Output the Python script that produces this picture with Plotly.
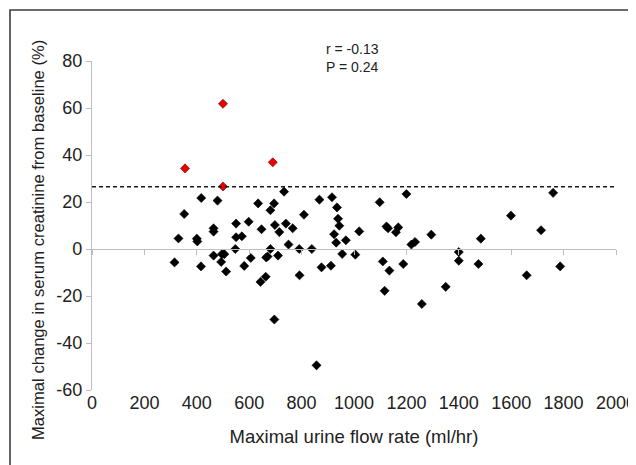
import plotly.graph_objects as go

# ---- data ----
flow_black = [315, 330, 352, 400, 402, 417, 416, 464, 464, 464, 479, 493, 496, 505, 512,
              550, 550, 547, 572, 581, 598, 606, 634, 647, 643, 663, 665, 670, 681, 695,
              681, 698, 696, 710, 715, 733, 740, 750, 766, 791, 792, 809, 839, 857, 868,
              876, 912, 916, 924, 932, 935, 939, 944, 955, 969, 1005, 1020, 1098, 1110, 1117,
              1124, 1130, 1135, 1160, 1169, 1188, 1200, 1219, 1233, 1259, 1295, 1350, 1400, 1400,
              1475, 1484, 1599, 1659, 1714, 1760, 1787]
change_black = [-5.7, 4.5, 14.9, 4.4, 3.2, 21.7, -7.4, 8.8, 7.4, -2.8, 20.6, -5.5, -2.2, -2.2, -9.6,
                10.8, 5.0, 0.0, 5.4, -7.2, 11.6, -3.8, 19.4, 8.4, -14.0, -11.8, -3.6, -3.2, 16.5, 19.4,
                0.0, 10.2, -30.0, -2.8, 7.2, 24.4, 10.8, 1.9, 8.8, 0.0, -11.2, 14.6, 0.0, -49.5, 21.0,
                -7.8, -7.1, 22.0, 6.3, 2.7, 17.7, 12.9, 9.9, -2.1, 3.7, -2.4, 7.5, 19.9, -5.3, -17.8,
                9.6, 8.8, -9.2, 7.1, 9.2, -6.4, 23.4, 1.9, 3.0, -23.4, 6.1, -16.1, -1.3, -5.0,
                -6.4, 4.4, 14.2, -11.2, 8.0, 23.9, -7.4]
flow_red = [355, 500, 500, 690]
change_red = [34.3, 61.8, 26.6, 36.9]
threshold_x = [0, 2000]
threshold_y = [26.5, 26.5]
x_ticks = list(range(0, 2001, 200))
y_ticks = list(range(-60, 81, 20))
stats_text = "r = -0.13<br>P = 0.24"
x_title = "Maximal urine flow rate (ml/hr)"
y_title = "Maximal change in serum creatinine from baseline (%)"

FONT = "Liberation Sans, Arial, sans-serif"
TXT = "#222222"
AXC = "#bdbdbd"

fig = go.Figure()

# dashed threshold line (drawn on the overlay axis that sits on y = 0)
fig.add_trace(go.Scatter(
    x=threshold_x, y=threshold_y, mode="lines", xaxis="x2", yaxis="y",
    line=dict(color="#1a1a1a", width=1.5, dash="4px,3px"),
    hoverinfo="skip", showlegend=False))

fig.add_trace(go.Scatter(
    x=flow_black, y=change_black, mode="markers",
    marker=dict(symbol="diamond", size=7, color="#000000",
                line=dict(width=0.6, color="#000000")),
    showlegend=False))

fig.add_trace(go.Scatter(
    x=flow_red, y=change_red, mode="markers",
    marker=dict(symbol="diamond", size=7, color="#ee0000",
                line=dict(width=0.6, color="#500000")),
    showlegend=False))

# the page body has an 8px margin, so the figure is 8px smaller than the window
fig.update_layout(
    width=628, height=457,
    margin=dict(l=84, r=20, t=53, b=75),
    paper_bgcolor="white", plot_bgcolor="white",
    font=dict(family=FONT, color=TXT),
    xaxis=dict(
        range=[0, 2000], tickvals=x_ticks, ticktext=[str(v) for v in x_ticks],
        showline=False, ticks="", showgrid=False, zeroline=False, automargin=False,
        tickfont=dict(size=18, color=TXT), ticklabelstandoff=0,
        ticklabeloverflow="allow",
        title=dict(text=x_title, font=dict(size=18.5, color=TXT), standoff=18),
    ),
    xaxis2=dict(
        range=[0, 2000], tickvals=x_ticks, overlaying="x", anchor="free",
        position=60 / 140, side="bottom", automargin=False,
        showline=True, linecolor=AXC, linewidth=1.3,
        ticks="outside", ticklen=5, tickcolor=AXC, tickwidth=1.3,
        showticklabels=False, showgrid=False, zeroline=False,
    ),
    yaxis=dict(
        range=[-60, 80], tickvals=y_ticks, ticktext=[str(v) for v in y_ticks],
        showline=True, linecolor=AXC, linewidth=1.3, automargin=False,
        ticks="outside", ticklen=5, tickcolor=AXC, tickwidth=1.3,
        showgrid=False, zeroline=False,
        tickfont=dict(size=18, color=TXT),
    ),
    annotations=[
        dict(text=stats_text, xref="paper", yref="paper",
             x=(324 - 92) / 524, y=(390 - 58) / 329,
             xanchor="left", yanchor="middle", align="left", showarrow=False,
             font=dict(size=14, color=TXT, family=FONT)),
        # y-axis title (sits a little below the plot's vertical centre in the reference)
        dict(text=y_title, xref="paper", yref="paper",
             x=(38 - 92) / 524, y=(390 - 240) / 329, textangle=-90,
             xanchor="center", yanchor="middle", showarrow=False,
             font=dict(size=16.6, color=TXT, family=FONT)),
    ],
    shapes=[
        # outer frame (only left and top edges fall inside the picture)
        dict(type="rect", xref="paper", yref="paper",
             x0=(10 - 92) / 524, x1=1.2, y0=-0.4, y1=(390 - 10) / 329,
             line=dict(color="#3c3c3c", width=1.6), fillcolor="rgba(0,0,0,0)",
             layer="above"),
        # picture is cropped just after "200" of the last tick label
        dict(type="rect", xref="paper", yref="paper",
             x0=(629 - 92) / 524, x1=1.2, y0=-0.1, y1=-0.005,
             line=dict(width=0), fillcolor="white", layer="above"),
    ],
)

fig.write_html("out.html")
